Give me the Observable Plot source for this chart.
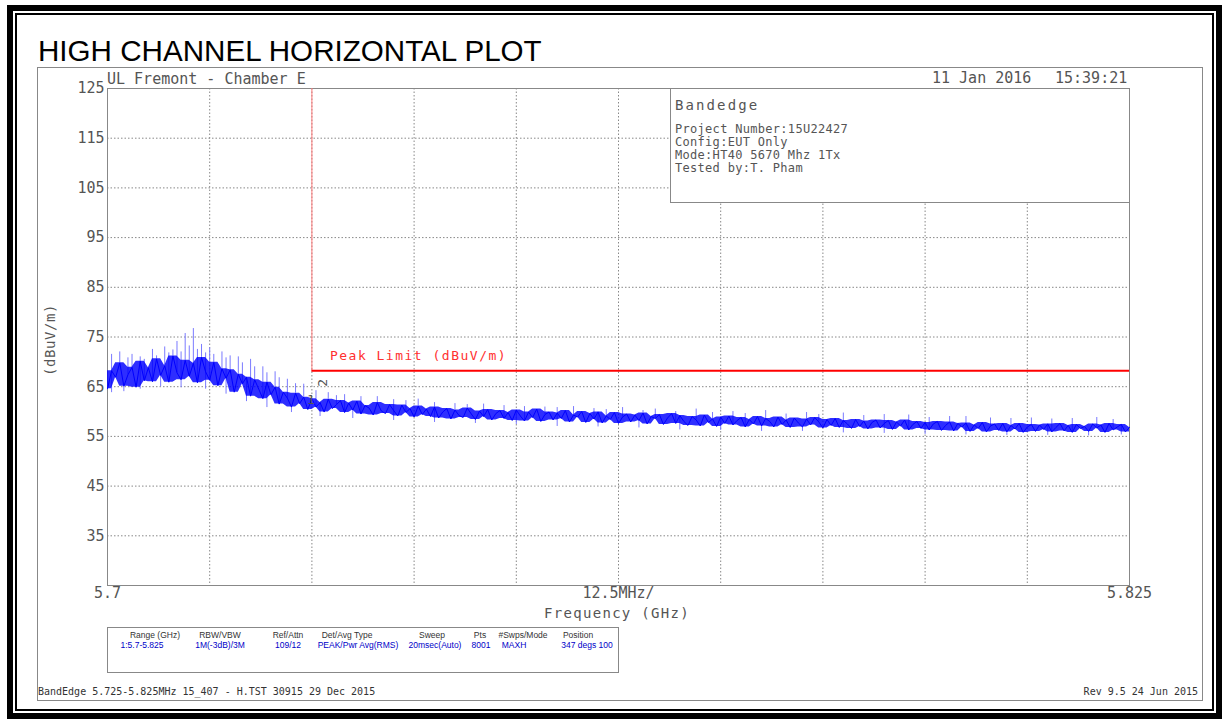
<!DOCTYPE html>
<html><head><meta charset="utf-8">
<script src="https://cdn.jsdelivr.net/npm/d3@7"></script>
<script src="https://cdn.jsdelivr.net/npm/@observablehq/plot@0.6"></script>
<style>
body{margin:0;background:#fff}
#page{position:relative;width:1225px;height:725px;overflow:hidden;background:#fff}
.abs{position:absolute;white-space:pre;line-height:1}
.mono{font-family:"DejaVu Sans Mono",monospace;color:#555}
.tbl{font-family:"Liberation Sans",sans-serif;font-size:8.5px;line-height:1;position:absolute;white-space:pre;transform:translateX(-50%)}
.th{color:#333}
.tv{color:#0000c8}
</style></head><body>
<div id="page">
  <div id="chart" class="abs" style="left:0;top:0"></div>
  <div class="abs" style="left:7px;top:5px;width:1215px;height:714px;border:6px solid #000;box-sizing:border-box"></div>
  <div class="abs" style="left:15px;top:13px;width:1199px;height:698px;border:2px solid #000;box-sizing:border-box"></div>
  <div class="abs" style="left:37px;top:67px;width:1166px;height:634px;border:1px solid #888;box-sizing:border-box"></div>
  <div class="abs" id="title" style="left:38px;top:36px;font-family:'Liberation Sans',Arial,sans-serif;font-size:29.6px;color:#000"></div>
  <div class="abs mono" id="site" style="left:107px;top:72.3px;font-size:15px"></div>
  <div class="abs mono" id="date" style="left:932px;top:71.3px;font-size:15px"></div>
  <div class="abs mono" id="time" style="left:1055px;top:71.3px;font-size:15px"></div>
  <div class="abs" id="info" style="left:670px;top:88px;width:460px;height:115px;border:1px solid #888;box-sizing:border-box;background:#fff"></div>
  <div class="abs mono" id="xlabel" style="left:617px;top:606.2px;font-size:14px;letter-spacing:1.3px;transform:translateX(-50%)"></div>
  <div class="abs mono" id="ylabel" style="left:50px;top:340px;font-size:14px;letter-spacing:0.6px;transform:translate(-50%,-50%) rotate(-90deg)"></div>
  <div class="abs" id="table" style="left:107px;top:627px;width:512px;height:46px;border:1px solid #888;box-sizing:border-box"></div>
  <div class="abs mono" id="footL" style="left:38px;top:686.5px;font-size:10px;color:#333"></div>
  <div class="abs mono" id="footR" style="right:27px;top:686.5px;font-size:10px;color:#333"></div>
</div>
<script>
// ---------- text content ----------
const titleText = "HIGH CHANNEL HORIZONTAL PLOT";
const siteText = "UL Fremont - Chamber E";
const dateText = "11 Jan 2016";
const timeText = "15:39:21";
const infoTitle = "Bandedge";
const infoLines = ["Project Number:15U22427", "Config:EUT Only", "Mode:HT40 5670 Mhz 1Tx", "Tested by:T. Pham"];
const xAxisTitle = "Frequency (GHz)";
const yAxisTitle = "(dBuV/m)";
const peakLimitLabel = "Peak Limit (dBuV/m)";
const tableHeaders = ["Range (GHz)", "RBW/VBW", "Ref/Attn", "Det/Avg Type", "Sweep", "Pts", "#Swps/Mode", "Position"];
const tableValues = ["1:5.7-5.825", "1M(-3dB)/3M", "109/12", "PEAK/Pwr Avg(RMS)", "20msec(Auto)", "8001", "MAXH", "347 degs 100"];
const footerLeft = "BandEdge 5.725-5.825MHz 15_407 - H.TST 30915 29 Dec 2015";
const footerRight = "Rev 9.5 24 Jun 2015";

// ---------- axes ----------
const yTicks = [35, 45, 55, 65, 75, 85, 95, 105, 115, 125];
const yGrid = [35, 45, 55, 65, 75, 85, 95, 105, 115];
const xGridGHz = [5.7125, 5.725, 5.7375, 5.75, 5.7625, 5.775, 5.7875, 5.8, 5.8125];
const xLabelGHz = [5.7, 5.7625, 5.825];
const xTickLabels = ["5.7", "12.5MHz/", "5.825"];
const xDomain = [5.7, 5.825];
const yDomain = [25, 125];

// ---------- limit / markers ----------
const bandEdgeGHz = 5.725;
const peakLimitDb = 68.2;
const markerLabels = ["1", "2"];
const markerDb = [62.3, 65.8];

// ---------- trace (0.5 MHz steps from 5.700 GHz) ----------
const traceStartGHz = 5.7;
const traceStepGHz = 0.0005;
const traceDb = [
  64.6, 68.2, 66.9, 69.8, 65.1, 67.4, 68.9, 64.9, 70.1, 66.2,
  68.8, 66.0, 70.6, 67.3, 69.2, 65.9, 71.2, 67.8, 66.4, 70.3,
  67.1, 69.7, 65.8, 70.9, 68.0, 66.3, 69.9, 65.2, 68.6, 66.7,
  68.4, 63.9, 67.5, 65.6, 66.9, 63.1, 66.4, 64.5, 62.6, 65.9,
  63.4, 64.9, 61.5, 63.9, 62.7, 60.9, 63.7, 61.6, 62.9, 60.4,
  62.6, 60.9, 61.8, 59.9, 62.5, 60.6, 61.4, 62.2, 59.8, 61.7,
  60.3, 62.1, 59.5, 61.2, 60.7, 59.3, 61.8, 60.1, 59.6, 61.4,
  60.2, 59.1, 61.3, 59.8, 60.6, 58.9, 61.1, 59.4, 60.5, 59.0,
  60.9, 58.7, 59.9, 60.6, 58.5, 60.3, 59.2, 58.8, 60.7, 59.5,
  58.4, 60.1, 59.0, 60.4, 58.3, 59.6, 60.2, 58.6, 59.8, 58.2,
  60.3, 59.1, 58.1, 59.9, 58.8, 60.5, 58.0, 59.4, 59.9, 58.3,
  59.7, 58.6, 60.2, 57.9, 59.3, 58.9, 60.0, 57.8, 59.6, 58.5,
  59.9, 57.7, 59.1, 58.4, 59.8, 57.6, 58.9, 59.5, 57.9, 59.3,
  58.2, 59.7, 57.5, 59.0, 58.6, 59.4, 57.4, 58.7, 59.6, 57.6,
  59.2, 58.0, 57.2, 59.0, 58.3, 57.1, 59.3, 57.8, 58.5, 57.0,
  58.9, 57.6, 59.1, 57.3, 58.2, 58.8, 56.9, 58.4, 57.5, 59.0,
  57.1, 58.6, 58.0, 56.9, 58.9, 57.4, 58.3, 56.8, 58.7, 57.7,
  56.9, 58.5, 57.3, 58.8, 57.9, 56.7, 58.4, 57.2, 58.6, 56.8,
  58.2, 57.5, 56.6, 58.4, 57.0, 58.1, 56.5, 57.8, 58.3, 56.7,
  57.6, 58.2, 56.4, 57.9, 57.1, 58.3, 56.3, 57.4, 58.0, 56.6,
  57.8, 56.3, 57.5, 58.0, 56.2, 57.2, 57.9, 56.1, 57.6, 56.9,
  57.7, 56.0, 57.3, 56.6, 57.8, 55.9, 57.1, 57.5, 56.2, 57.6,
  55.9, 57.2, 56.5, 57.6, 55.8, 56.9, 57.4, 56.0, 57.3, 56.4,
  57.5, 55.9, 56.8, 57.6, 56.1, 57.2, 55.8, 57.4, 56.6, 57.0,
  56.0, 57.5, 56.7, 57.3, 55.8, 57.6, 56.3, 56.9, 57.4, 55.9,
  56.8
];
// isolated peaks above the trace (offset from 5.7 GHz in MHz, level in dBuV/m)
const spikeMHz = [0.5, 1.5, 2.5, 3.0, 4.0, 4.5, 5.5, 6.0, 7.0, 7.5, 8.0, 8.5, 9.0, 9.5, 10.0, 10.5, 11.0, 11.5, 12.0, 12.5,
  13.0, 14.0, 14.5, 15.0, 16.0, 16.5, 17.5, 18.0, 19.0, 19.5, 20.5, 21.0, 22.0, 23.0, 24.0, 25.5, 27.0, 28.0, 29.0, 31.0,
  33.0, 35.0, 36.5, 38.0, 40.0, 42.5, 44.0, 46.0, 48.5, 51.0, 53.5, 55.0, 57.0, 59.5, 61.0, 63.0, 65.5, 67.0, 69.5, 72.0,
  74.0, 76.5, 78.0, 80.5, 83.0, 85.5, 87.0, 90.0, 92.5, 95.0, 98.0, 100.5, 103.0, 105.0, 108.0, 110.5, 113.0, 115.5, 118.0, 121.0, 123.0];
const spikeDb = [71.5, 72.0, 70.8, 71.5, 71.0, 70.5, 72.5, 71.2, 73.0, 71.8, 72.4, 74.1, 72.0, 75.7, 73.2, 76.7, 72.5, 73.5, 71.8, 72.8,
  71.5, 72.0, 70.8, 71.2, 71.0, 69.8, 70.5, 69.0, 69.0, 67.8, 68.0, 66.8, 66.5, 65.6, 65.5, 64.2, 63.8, 63.2, 63.4, 63.0,
  63.0, 62.4, 62.2, 62.5, 61.8, 61.6, 61.4, 61.5, 61.2, 61.0, 60.9, 60.8, 61.0, 60.6, 60.4, 60.8, 60.2, 60.5, 60.0, 60.5,
  59.8, 60.0, 59.6, 60.2, 59.5, 59.8, 59.4, 59.7, 59.2, 59.4, 59.3, 58.8, 59.0, 59.0, 58.7, 58.6, 58.7, 58.5, 58.6, 58.8, 58.4];
// isolated dips below the trace
const dipMHz = [0.5, 2.0, 4.0, 6.5, 9.0, 12.0, 14.5, 17.0, 19.5, 22.5, 26.0, 30.0, 35.0, 40.0, 45.0, 50.0,
  55.0, 60.0, 65.0, 70.0, 75.0, 80.0, 85.0, 90.0, 95.0, 100.0, 105.0, 110.0, 115.0, 120.0, 124.0];
const dipDb = [63.8, 64.0, 64.5, 65.0, 64.8, 64.5, 63.5, 62.0, 60.8, 59.8, 59.0, 58.6, 58.2, 57.8, 57.6, 57.4,
  57.0, 56.9, 56.7, 56.3, 56.2, 56.0, 56.0, 55.7, 55.6, 55.4, 55.3, 55.2, 55.2, 55.1, 55.3];

// ---------- build data ----------
const n = traceDb.length;
const trace = traceDb.map((db, i) => {
  const nb = [traceDb[Math.max(i - 1, 0)], db, traceDb[Math.min(i + 1, n - 1)]];
  return {f: traceStartGHz + i * traceStepGHz, db, lo: d3.min(nb), hi: d3.max(nb)};
});
const toRule = (m, v) => ({f: traceStartGHz + m / 1000, db: v, base: traceDb[Math.round(m / 0.5)]});
const spikes = spikeMHz.map((m, i) => toRule(m, spikeDb[i]));
const dips = dipMHz.map((m, i) => toRule(m, dipDb[i]));
const markers = markerLabels.map((t, i) => ({t, f: bandEdgeGHz, db: markerDb[i]}));

const grid = {stroke: "#888", strokeOpacity: 1, strokeDasharray: "1.5,2"};

const chart = Plot.plot({
  width: 1225,
  height: 725,
  marginLeft: 107,
  marginRight: 96,
  marginTop: 88,
  marginBottom: 140,
  style: {fontFamily: "DejaVu Sans Mono, monospace", fontSize: "15px", color: "#555", background: "transparent"},
  x: {domain: xDomain},
  y: {domain: yDomain},
  marks: [
    Plot.gridY(yGrid, grid),
    Plot.gridX(xGridGHz, grid),
    Plot.frame({stroke: "#888"}),
    Plot.axisY(yTicks, {tickSize: 0, tickPadding: 3, label: null}),
    Plot.axisX(xLabelGHz, {tickSize: 0, tickPadding: 2, label: null,
      tickFormat: d => xTickLabels[xLabelGHz.indexOf(d)]}),
    Plot.ruleX([bandEdgeGHz], {y1: peakLimitDb, y2: yDomain[1], stroke: "#ff7a7a", strokeWidth: 1}),
    Plot.ruleX(spikes, {x: "f", y1: "base", y2: "db", stroke: "#7a7aff", strokeWidth: 1}),
    Plot.ruleX(dips, {x: "f", y1: "base", y2: "db", stroke: "#7a7aff", strokeWidth: 1}),
    Plot.areaY(trace, {x: "f", y1: "lo", y2: "hi", fill: "#0000ff", fillOpacity: 0.82}),
    Plot.line(trace, {x: "f", y: "db", stroke: "#0000ff", strokeWidth: 1}),
    Plot.ruleY([peakLimitDb], {x1: bandEdgeGHz, x2: xDomain[1], stroke: "#ff0000", strokeWidth: 2}),
    Plot.text([peakLimitLabel], {x: bandEdgeGHz, y: peakLimitDb, text: d => d, dx: 18, dy: -15,
      textAnchor: "start", fill: "#ff3030", fontSize: 13}),
    Plot.text(markers.slice(0, 1), {x: "f", y: "db", text: "t", dx: -1, fill: "#555", fontSize: 13}),
    Plot.text(markers.slice(1), {x: "f", y: "db", text: "t", dx: 11, rotate: -90, fill: "#555", fontSize: 13})
  ]
});
document.getElementById("chart").appendChild(chart);
d3.select(chart).selectAll("text")
  .filter(function() { return this.textContent === peakLimitLabel; })
  .attr("letter-spacing", "1.5px");

// ---------- annotations ----------
document.getElementById("title").textContent = titleText;
document.getElementById("site").textContent = siteText;
document.getElementById("date").textContent = dateText;
document.getElementById("time").textContent = timeText;
document.getElementById("xlabel").textContent = xAxisTitle;
document.getElementById("ylabel").textContent = yAxisTitle;
document.getElementById("footL").textContent = footerLeft;
document.getElementById("footR").textContent = footerRight;

const info = document.getElementById("info");
const it = document.createElement("div");
it.className = "abs mono";
it.style.cssText = "left:4px;top:9.2px;font-size:14px;letter-spacing:2.1px";
it.textContent = infoTitle;
info.appendChild(it);
const infoBaseline = [45.5, 58.3, 71.1, 83.9];
infoLines.forEach((s, i) => {
  const d = document.createElement("div");
  d.className = "abs mono";
  d.style.cssText = `left:4px;top:${infoBaseline[i] - 0.846 * 12 - 1}px;font-size:12px;letter-spacing:0.3px`;
  d.textContent = s;
  info.appendChild(d);
});

const table = document.getElementById("table");
const headerCenters = [155, 220, 288, 347, 432, 480, 523, 578];
const valueCenters = [142, 220, 288, 358, 435, 481, 514, 587];
tableHeaders.forEach((s, i) => {
  const d = document.createElement("div");
  d.className = "tbl th";
  d.style.left = (headerCenters[i] - 108) + "px";
  d.style.top = "3px";
  d.textContent = s;
  table.appendChild(d);
});
tableValues.forEach((s, i) => {
  const d = document.createElement("div");
  d.className = "tbl tv";
  d.style.left = (valueCenters[i] - 108) + "px";
  d.style.top = "13px";
  d.textContent = s;
  table.appendChild(d);
});
</script>
</body></html>
